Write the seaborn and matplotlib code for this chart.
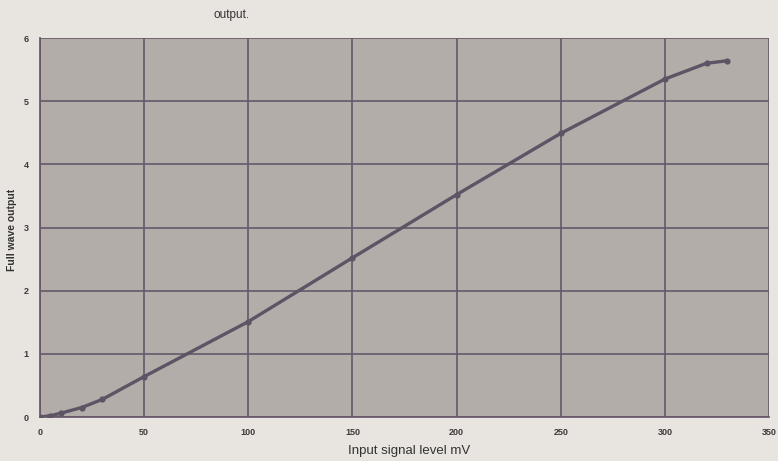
import numpy as np
import pandas as pd
import seaborn as sns
import matplotlib.pyplot as plt

# Full wave output vs input level
input_mv = [0, 5, 10, 20, 30, 50, 100, 150, 200, 250, 300, 320, 330]
output_v = [0.0, 0.02, 0.06, 0.15, 0.28, 0.64, 1.51, 2.52, 3.52, 4.49, 5.35, 5.6, 5.64]
x_ticks = [0, 50, 100, 150, 200, 250, 300, 350]
y_ticks = [0, 1, 2, 3, 4, 5, 6]

df = pd.DataFrame({"Input signal level mV": input_mv, "Full wave output": output_v})

sns.set_theme(style="whitegrid")
plt.rcParams['font.family'] = ['Liberation Sans', 'DejaVu Sans']

fig = plt.figure(figsize=(7.78, 4.61), dpi=100)
fig.patch.set_facecolor('#e8e4df')
ax = fig.add_axes([40 / 778, 1 - 417 / 461, (769 - 40) / 778, (417 - 38) / 461])
ax.set_facecolor('#b3ada9')

sns.lineplot(data=df, x="Input signal level mV", y="Full wave output", ax=ax,
             color='#5e5466', linewidth=2.4, marker='o', markersize=4.5,
             markeredgewidth=0, zorder=3)

ax.set_xlim(0, 350)
ax.set_ylim(0, 6)
ax.set_xticks(x_ticks)
ax.set_yticks(y_ticks)
ax.grid(True, color='#66586a', linewidth=1.2)
for s in ax.spines.values():
    s.set_visible(False)
ax.spines['left'].set_visible(True)
ax.spines['bottom'].set_visible(True)
ax.spines['left'].set_color('#66586a')
ax.spines['bottom'].set_color('#66586a')
ax.tick_params(axis='both', labelsize=6.5, colors='#3a3a3a', length=3, pad=5)
for lab in ax.get_xticklabels() + ax.get_yticklabels():
    lab.set_fontweight('bold')

ax.set_xlabel("Input signal level mV", fontsize=9.5, color='#333333', labelpad=2)
ax.xaxis.set_label_coords((409 - 40) / (769 - 40), -0.075)
ax.set_ylabel("Full wave output", fontsize=7.5, fontweight='bold', color='#333333')
ax.yaxis.set_label_coords((17 - 40) / (769 - 40), 1 - (230 - 38) / (417 - 38))

fig.text(232 / 778, 1 - 15 / 461, "output.", fontsize=8.5, color='#333333',
         ha='center', va='center')

fig.savefig("out.png", dpi=100, facecolor=fig.get_facecolor())
